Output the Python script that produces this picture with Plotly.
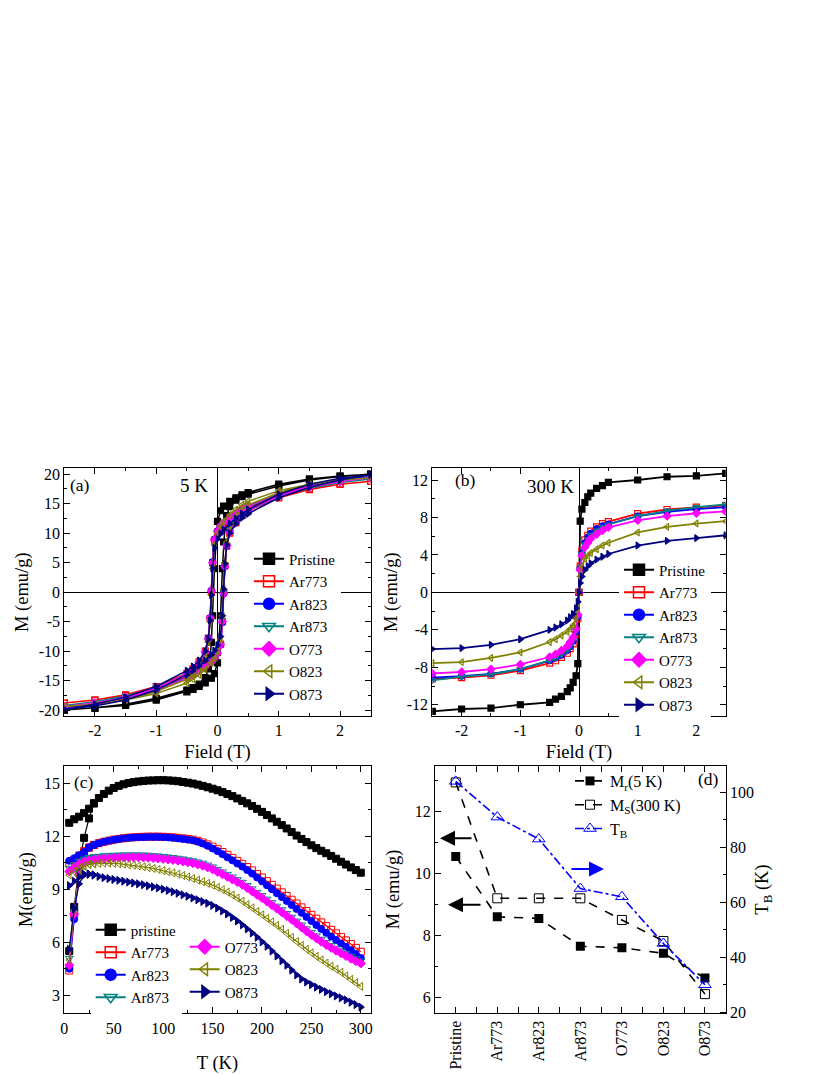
import plotly.graph_objects as go

SERIF = "Liberation Serif"

# ---------------- data ----------------
samples = ["Pristine", "Ar773", "Ar823", "Ar873", "O773", "O823", "O873"]
names_c = ["pristine", "Ar773", "Ar823", "Ar873", "O773", "O823", "O873"]

# (a) 5 K hysteresis loops: descending branch then ascending branch
H_desc_5K = [2.5, 2, 1.5, 1, 0.5, 0.4, 0.3, 0.2, 0.1, 0.05, 0, -0.05, -0.08, -0.1, -0.12, -0.15, -0.2, -0.3, -0.4, -0.5, -1, -1.5, -2, -2.5]
H_asc_5K = [-2.5, -2, -1.5, -1, -0.5, -0.4, -0.3, -0.2, -0.1, -0.05, 0, 0.05, 0.08, 0.1, 0.12, 0.15, 0.2, 0.3, 0.4, 0.5, 1, 1.5, 2, 2.5]

desc_Pristine = [20.0, 19.7, 19.2, 18.3, 16.9, 16.5, 16.0, 15.4, 14.6, 13.8, 12.0, 4.0, -4.0, -8.5, -11.0, -13.0, -14.5, -15.6, -16.2, -16.6, -18.0, -19.0, -19.6, -20.0]
asc_Pristine = [-20.0, -19.7, -19.2, -18.3, -16.9, -16.5, -16.0, -15.4, -14.6, -13.8, -12.0, -4.0, 4.0, 8.5, 11.0, 13.0, 14.5, 15.6, 16.2, 16.6, 18.0, 19.0, 19.6, 20.0]
desc_Ar773 = [18.8, 18.3, 17.5, 16.5, 14.3, 13.8, 13.1, 12.4, 11.6, 11.0, 10.2, 8.8, 5.0, 0.0, -4.5, -7.8, -10.0, -11.8, -13.0, -13.8, -16.0, -17.4, -18.3, -18.8]
asc_Ar773 = [-18.8, -18.3, -17.5, -16.5, -14.3, -13.8, -13.1, -12.4, -11.6, -11.0, -10.2, -8.8, -5.0, 0.0, 4.5, 7.8, 10.0, 11.8, 13.0, 13.8, 16.0, 17.4, 18.3, 18.8]
desc_Ar823 = [19.6, 19.0, 18.1, 16.8, 14.6, 14.0, 13.3, 12.6, 11.8, 11.2, 10.4, 9.0, 5.2, 0.3, -4.3, -7.8, -10.2, -12.0, -13.2, -14.0, -16.4, -17.9, -18.9, -19.6]
asc_Ar823 = [-19.6, -19.0, -18.1, -16.8, -14.6, -14.0, -13.3, -12.6, -11.8, -11.2, -10.4, -9.0, -5.2, -0.3, 4.3, 7.8, 10.2, 12.0, 13.2, 14.0, 16.4, 17.9, 18.9, 19.6]
desc_Ar873 = [19.2, 18.6, 17.7, 16.6, 14.5, 13.9, 13.2, 12.5, 11.7, 11.1, 10.2, 8.8, 4.8, 0.0, -4.6, -8.0, -10.2, -12.0, -13.1, -13.9, -16.2, -17.6, -18.6, -19.2]
asc_Ar873 = [-19.2, -18.6, -17.7, -16.6, -14.5, -13.9, -13.2, -12.5, -11.7, -11.1, -10.2, -8.8, -4.8, 0.0, 4.6, 8.0, 10.2, 12.0, 13.1, 13.9, 16.2, 17.6, 18.6, 19.2]
desc_O773 = [19.4, 18.8, 17.9, 16.7, 14.6, 14.0, 13.3, 12.6, 11.8, 11.2, 10.3, 8.9, 5.0, 0.2, -4.4, -7.9, -10.1, -11.9, -13.1, -13.9, -16.3, -17.8, -18.8, -19.4]
asc_O773 = [-19.4, -18.8, -17.9, -16.7, -14.6, -14.0, -13.3, -12.6, -11.8, -11.2, -10.3, -8.9, -5.0, -0.2, 4.4, 7.9, 10.1, 11.9, 13.1, 13.9, 16.3, 17.8, 18.8, 19.4]
desc_O823 = [19.4, 19.0, 18.3, 17.2, 15.4, 14.8, 14.0, 13.1, 12.0, 11.2, 10.0, 8.0, 4.0, -0.5, -5.0, -8.5, -10.8, -12.8, -14.0, -14.8, -16.8, -18.2, -19.0, -19.4]
asc_O823 = [-19.4, -19.0, -18.3, -17.2, -15.4, -14.8, -14.0, -13.1, -12.0, -11.2, -10.0, -8.0, -4.0, 0.5, 5.0, 8.5, 10.8, 12.8, 14.0, 14.8, 16.8, 18.2, 19.0, 19.4]
desc_O873 = [19.9, 19.3, 18.3, 16.6, 14.0, 13.3, 12.5, 11.6, 10.6, 9.9, 9.0, 7.5, 4.0, -0.5, -4.8, -8.0, -10.0, -11.6, -12.6, -13.3, -16.0, -17.8, -19.0, -19.9]
asc_O873 = [-19.9, -19.3, -18.3, -16.6, -14.0, -13.3, -12.5, -11.6, -10.6, -9.9, -9.0, -7.5, -4.0, 0.5, 4.8, 8.0, 10.0, 11.6, 12.6, 13.3, 16.0, 17.8, 19.0, 19.9]

# (b) 300 K field sweep
H_300K = [-2.5, -2, -1.5, -1, -0.5, -0.4, -0.3, -0.2, -0.15, -0.1, -0.05, -0.02, 0, 0.02, 0.05, 0.1, 0.15, 0.2, 0.3, 0.4, 0.5, 1, 1.5, 2, 2.5]
M300_Pristine = [-12.7, -12.45, -12.35, -12.0, -11.75, -11.4, -11.1, -10.6, -10.2, -9.6, -8.9, -7.6, 0.0, 7.6, 8.9, 9.6, 10.2, 10.6, 11.1, 11.4, 11.75, 12.0, 12.35, 12.45, 12.7]
M300_Ar773 = [-9.25, -9.1, -8.85, -8.35, -7.55, -7.3, -6.95, -6.5, -6.0, -5.5, -4.5, -2.8, 0.0, 2.8, 4.5, 5.6, 6.1, 6.55, 7.0, 7.35, 7.55, 8.4, 8.85, 9.1, 9.3]
M300_Ar823 = [-9.1, -8.95, -8.7, -8.2, -7.3, -7.0, -6.7, -6.2, -5.8, -5.2, -4.2, -2.6, 0.0, 2.6, 4.2, 5.3, 5.9, 6.3, 6.8, 7.1, 7.3, 8.15, 8.6, 8.9, 9.1]
M300_Ar873 = [-9.4, -9.0, -8.75, -8.2, -7.25, -7.0, -6.6, -6.15, -5.7, -5.1, -4.1, -2.5, 0.0, 2.5, 4.1, 5.1, 5.7, 6.15, 6.6, 7.0, 7.25, 8.15, 8.7, 9.1, 9.4]
M300_O773 = [-8.65, -8.5, -8.2, -7.7, -6.9, -6.6, -6.2, -5.75, -5.3, -4.8, -3.9, -2.4, 0.0, 2.4, 3.9, 4.8, 5.3, 5.75, 6.2, 6.6, 6.95, 7.7, 8.15, 8.45, 8.65]
M300_O823 = [-7.55, -7.45, -7.0, -6.4, -5.3, -5.0, -4.6, -4.2, -3.9, -3.5, -2.8, -1.7, 0.0, 1.7, 2.8, 3.6, 3.9, 4.2, 4.6, 5.0, 5.3, 6.4, 7.0, 7.35, 7.6]
M300_O873 = [-6.05, -5.95, -5.6, -5.0, -4.0, -3.75, -3.4, -3.0, -2.65, -2.3, -1.7, -1.0, 0.0, 1.0, 1.7, 2.4, 2.8, 3.1, 3.5, 3.8, 4.1, 5.0, 5.5, 5.8, 6.1]

# (c) M vs T: ZFC (low T) and FC
T_zfc = [5, 10, 15, 20, 25, 30]
T_fc = [5, 10, 15, 20, 25, 30, 35, 40, 45, 50, 55, 60, 65, 70, 75, 80, 85, 90, 95, 100,
        105, 110, 115, 120, 125, 130, 135, 140, 145, 150, 155, 160, 165, 170, 175, 180, 185, 190, 195, 200,
        205, 210, 215, 220, 225, 230, 235, 240, 245, 250, 255, 260, 265, 270, 275, 280, 285, 290, 295, 300]

zfc_Pristine = [5.5, 8.0, 10.4, 11.9, 13.0, 13.85]
zfc_Ar773 = [4.4, 7.6, 10.3, 11.05, 11.35, 11.5]
zfc_Ar823 = [4.5, 7.3, 10.0, 11.0, 11.35, 11.5]
zfc_Ar873 = [5.1, 7.7, 9.9, 10.6, 10.8, 10.84]
zfc_O773 = [4.7, 7.6, 9.8, 10.5, 10.62, 10.67]
zfc_O823 = [5.0, 7.8, 9.7, 10.3, 10.4, 10.44]
zfc_O873 = [5.6, 7.9, 9.3, 9.8, 9.85, 9.8]

fc_Pristine = [12.75, 12.95, 13.1, 13.3, 13.55, 13.85, 14.15, 14.38, 14.57, 14.72,
               14.84, 14.93, 15.0, 15.05, 15.09, 15.12, 15.14, 15.15, 15.16, 15.16,
               15.15, 15.13, 15.1, 15.06, 15.02, 14.97, 14.91, 14.84, 14.76, 14.68,
               14.59, 14.49, 14.38, 14.26, 14.13, 13.99, 13.85, 13.7, 13.54, 13.37,
               13.19, 13.0, 12.81, 12.62, 12.43, 12.23, 12.03, 11.84, 11.66, 11.48,
               11.32, 11.17, 11.03, 10.88, 10.72, 10.55, 10.39, 10.23, 10.08, 9.93]
fc_Ar773 = [10.45, 10.65, 10.9, 11.15, 11.35, 11.5, 11.6, 11.68, 11.74, 11.8,
            11.84, 11.88, 11.91, 11.93, 11.95, 11.96, 11.97, 11.97, 11.97, 11.96,
            11.95, 11.93, 11.9, 11.87, 11.84, 11.8, 11.73, 11.64, 11.53, 11.4,
            11.26, 11.1, 10.94, 10.77, 10.6, 10.43, 10.25, 10.06, 9.86, 9.66,
            9.45, 9.24, 9.03, 8.82, 8.61, 8.4, 8.19, 7.97, 7.76, 7.55,
            7.33, 7.12, 6.91, 6.7, 6.5, 6.3, 6.1, 5.9, 5.68, 5.46]
fc_Ar823 = [10.6, 10.75, 10.92, 11.1, 11.35, 11.5, 11.6, 11.68, 11.74, 11.79,
            11.83, 11.87, 11.9, 11.92, 11.93, 11.94, 11.95, 11.95, 11.95, 11.94,
            11.92, 11.9, 11.87, 11.84, 11.8, 11.76, 11.68, 11.58, 11.45, 11.3,
            11.15, 10.98, 10.8, 10.63, 10.45, 10.28, 10.08, 9.88, 9.66, 9.44,
            9.22, 9.0, 8.77, 8.55, 8.33, 8.1, 7.88, 7.66, 7.43, 7.2,
            6.97, 6.75, 6.53, 6.32, 6.12, 5.93, 5.74, 5.55, 5.33, 5.1]
fc_Ar873 = [10.2, 10.4, 10.6, 10.72, 10.8, 10.84, 10.87, 10.9, 10.92, 10.93,
            10.94, 10.95, 10.95, 10.95, 10.95, 10.94, 10.93, 10.91, 10.89, 10.86,
            10.83, 10.8, 10.76, 10.72, 10.67, 10.62, 10.55, 10.48, 10.38, 10.27,
            10.13, 9.99, 9.85, 9.7, 9.55, 9.4, 9.22, 9.03, 8.83, 8.65,
            8.45, 8.25, 8.05, 7.85, 7.64, 7.43, 7.21, 6.99, 6.77, 6.57,
            6.37, 6.18, 6.0, 5.83, 5.67, 5.52, 5.37, 5.22, 5.08, 4.95]
fc_O773 = [10.0, 10.2, 10.42, 10.55, 10.62, 10.67, 10.7, 10.73, 10.75, 10.77,
           10.78, 10.79, 10.8, 10.8, 10.8, 10.79, 10.78, 10.76, 10.74, 10.71,
           10.68, 10.65, 10.61, 10.57, 10.52, 10.47, 10.4, 10.33, 10.23, 10.12,
           9.98, 9.84, 9.7, 9.55, 9.4, 9.25, 9.07, 8.88, 8.68, 8.5,
           8.3, 8.1, 7.9, 7.7, 7.49, 7.28, 7.06, 6.84, 6.62, 6.42,
           6.22, 6.03, 5.85, 5.68, 5.52, 5.38, 5.22, 5.07, 4.93, 4.8]
fc_O823 = [9.8, 10.0, 10.2, 10.33, 10.4, 10.44, 10.46, 10.47, 10.47, 10.46,
           10.44, 10.41, 10.38, 10.35, 10.31, 10.27, 10.22, 10.17, 10.11, 10.05,
           9.98, 9.92, 9.85, 9.77, 9.69, 9.6, 9.51, 9.42, 9.33, 9.23,
           9.1, 8.97, 8.83, 8.67, 8.5, 8.32, 8.13, 7.94, 7.74, 7.55,
           7.35, 7.15, 6.95, 6.73, 6.5, 6.27, 6.04, 5.82, 5.6, 5.4,
           5.2, 5.0, 4.82, 4.64, 4.47, 4.3, 4.1, 3.9, 3.7, 3.5]
fc_O873 = [9.2, 9.45, 9.7, 9.85, 9.85, 9.8, 9.72, 9.65, 9.6, 9.55,
           9.5, 9.45, 9.4, 9.35, 9.3, 9.25, 9.19, 9.13, 9.07, 9.0,
           8.93, 8.85, 8.77, 8.68, 8.6, 8.5, 8.4, 8.3, 8.2, 8.08,
           7.93, 7.77, 7.6, 7.4, 7.2, 6.98, 6.75, 6.52, 6.28, 6.02,
           5.77, 5.5, 5.22, 4.95, 4.7, 4.42, 4.15, 3.92, 3.75, 3.6,
           3.46, 3.33, 3.2, 3.08, 2.96, 2.85, 2.74, 2.6, 2.47, 2.33]

# (d) summary
Mr_5K = [10.55, 8.6, 8.55, 7.65, 7.6, 7.42, 6.62]
Ms_300K = [12.95, 9.2, 9.2, 9.2, 8.5, 7.82, 6.1]
T_B = [104, 91, 83, 65, 62, 45, 30]

# tick labels (hyphen minus as in the original)
field_ticks = [-2, -1, 0, 1, 2]
field_ticktext = ["-2", "-1", "0", "1", "2"]
m5_ticks = [-20, -15, -10, -5, 0, 5, 10, 15, 20]
m5_ticktext = ["-20", "-15", "-10", "-5", "0", "5", "10", "15", "20"]
m300_ticks = [-12, -8, -4, 0, 4, 8, 12]
m300_ticktext = ["-12", "-8", "-4", "0", "4", "8", "12"]

# ---------------- styles ----------------
colors = ["#000000", "#FF0000", "#0000FF", "#008080", "#FF00FF", "#808000", "#000080"]
symbols = ["square", "square-open", "circle", "triangle-down-open", "diamond", "triangle-left-open", "triangle-right"]

desc_all = [desc_Pristine, desc_Ar773, desc_Ar823, desc_Ar873, desc_O773, desc_O823, desc_O873]
asc_all = [asc_Pristine, asc_Ar773, asc_Ar823, asc_Ar873, asc_O773, asc_O823, asc_O873]
m300_all = [M300_Pristine, M300_Ar773, M300_Ar823, M300_Ar873, M300_O773, M300_O823, M300_O873]
zfc_all = [zfc_Pristine, zfc_Ar773, zfc_Ar823, zfc_Ar873, zfc_O773, zfc_O823, zfc_O873]
fc_all = [fc_Pristine, fc_Ar773, fc_Ar823, fc_Ar873, fc_O773, fc_O823, fc_O873]

# page has an 8 px body margin: convert screenshot pixels to paper coordinates
OFF = 8


def PX(p):
    return (p - OFF) / 830


def PY(p):
    return 1 - (p - OFF) / 1075


fig = go.Figure()


def mk(i, size, lw=1.2):
    return dict(symbol=symbols[i], size=size, color=colors[i], line=dict(color=colors[i], width=lw))


for i, s in enumerate(samples):
    # (a)
    fig.add_trace(go.Scatter(x=H_desc_5K + H_asc_5K, y=desc_all[i] + asc_all[i], mode="lines+markers",
                             line=dict(color=colors[i], width=1.5), marker=mk(i, 6),
                             xaxis="x", yaxis="y", showlegend=False, hoverinfo="skip"))
    fig.add_trace(go.Scatter(x=[None], y=[None], mode="lines+markers", name=s,
                             line=dict(color=colors[i], width=2), marker=mk(i, 11, 1.5),
                             xaxis="x", yaxis="y", legend="legend"))
    # (b)
    fig.add_trace(go.Scatter(x=H_300K, y=m300_all[i], mode="lines+markers",
                             line=dict(color=colors[i], width=1.8), marker=mk(i, 6),
                             xaxis="x2", yaxis="y2", showlegend=False, hoverinfo="skip"))
    fig.add_trace(go.Scatter(x=[None], y=[None], mode="lines+markers", name=s,
                             line=dict(color=colors[i], width=2), marker=mk(i, 11, 1.5),
                             xaxis="x2", yaxis="y2", legend="legend2"))
    # (c)
    fig.add_trace(go.Scatter(x=T_zfc, y=zfc_all[i], mode="lines+markers",
                             line=dict(color=colors[i], width=1.2), marker=mk(i, 7, 1),
                             xaxis="x3", yaxis="y3", showlegend=False, hoverinfo="skip"))
    fig.add_trace(go.Scatter(x=T_fc, y=fc_all[i], mode="lines+markers",
                             line=dict(color=colors[i], width=1.2), marker=mk(i, 7, 1),
                             xaxis="x3", yaxis="y3", showlegend=False, hoverinfo="skip"))
    fig.add_trace(go.Scatter(x=[None], y=[None], mode="lines+markers", name=names_c[i],
                             line=dict(color=colors[i], width=2), marker=mk(i, 11, 1.5),
                             xaxis="x3", yaxis="y3", legend="legend3" if i < 4 else "legend4"))

# (d)
idx = list(range(len(samples)))
fig.add_trace(go.Scatter(x=idx, y=Mr_5K, mode="lines+markers", name="M<sub>r</sub>(5 K)",
                         line=dict(color="black", width=1.6, dash="dash"),
                         marker=dict(symbol="square", size=9, color="black"),
                         xaxis="x4", yaxis="y4", legend="legend5"))
fig.add_trace(go.Scatter(x=idx, y=Ms_300K, mode="lines+markers", name="M<sub>S</sub>(300 K)",
                         line=dict(color="black", width=1.6, dash="dash"),
                         marker=dict(symbol="square-open", size=9, color="black", line=dict(width=1)),
                         xaxis="x4", yaxis="y4", legend="legend5"))
fig.add_trace(go.Scatter(x=idx, y=T_B, mode="lines+markers", name="T<sub>B</sub>",
                         line=dict(color="#0000FF", width=1.6, dash="dashdot"),
                         marker=dict(symbol="triangle-up-open", size=11, color="#0000FF", line=dict(width=1)),
                         xaxis="x4", yaxis="y5", legend="legend5"))

# ---------------- layout ----------------
TICKF = dict(family=SERIF, size=16, color="black")
TITLEF = dict(family=SERIF, size=18.5, color="black")


def ax(**kw):
    d = dict(showline=True, linecolor="black", linewidth=1, mirror="allticks", ticks="inside",
             ticklen=6, tickwidth=1, tickcolor="black", showgrid=False, zeroline=False,
             tickfont=TICKF, automargin=False,
             minor=dict(ticks="inside", ticklen=3, tickcolor="black", showgrid=False))
    minor = kw.pop("minor", None)
    d.update(kw)
    if minor:
        d["minor"].update(minor)
    return d


xa_dom = [PX(64.3), PX(370.7)]
xb_dom = [PX(432.3), PX(725.7)]
xd_dom = [PX(435), PX(725.7)]
ytop_dom = [PY(716), PY(468.3)]
ybot_dom = [PY(1013.3), PY(765.7)]

fig.update_layout(
    width=830, height=1075, autosize=False,
    margin=dict(l=0, r=0, t=0, b=0),
    paper_bgcolor="white", plot_bgcolor="white",
    font=dict(family=SERIF, color="black"),
    xaxis=ax(domain=xa_dom, range=[-2.5, 2.5], tickmode="array", tickvals=field_ticks, ticktext=field_ticktext,
             minor=dict(dtick=0.5, tick0=0),
             zeroline=True, zerolinecolor="black", zerolinewidth=1, anchor="y",
             title=dict(text="Field (T)", font=TITLEF, standoff=6)),
    yaxis=ax(domain=ytop_dom, range=[-21, 21], tickmode="array", tickvals=m5_ticks, ticktext=m5_ticktext,
             minor=dict(dtick=2.5, tick0=0),
             zeroline=True, zerolinecolor="black", zerolinewidth=1, anchor="x",
             title=dict(text="M (emu/g)", font=TITLEF, standoff=5)),
    xaxis2=ax(domain=xb_dom, range=[-2.5, 2.5], tickmode="array", tickvals=field_ticks, ticktext=field_ticktext,
              minor=dict(dtick=0.5, tick0=0),
              zeroline=True, zerolinecolor="black", zerolinewidth=1, anchor="y2",
              title=dict(text="Field (T)", font=TITLEF, standoff=6)),
    yaxis2=ax(domain=ytop_dom, range=[-13.2, 13.25], tickmode="array", tickvals=m300_ticks, ticktext=m300_ticktext,
              minor=dict(dtick=2, tick0=0),
              zeroline=True, zerolinecolor="black", zerolinewidth=1, anchor="x2",
              title=dict(text="M (emu/g)", font=TITLEF, standoff=4)),
    xaxis3=ax(domain=xa_dom, range=[0, 310], tick0=0, dtick=50, minor=dict(dtick=25, tick0=0), anchor="y3",
              title=dict(text="T (K)", font=TITLEF, standoff=20)),
    yaxis3=ax(domain=ybot_dom, range=[1.98, 15.98], tick0=0, dtick=3, minor=dict(dtick=1.5, tick0=0), anchor="x3",
              title=dict(text="M(emu/g)", font=TITLEF, standoff=6)),
    xaxis4=ax(domain=xd_dom, range=[-0.5, 6.5], tickmode="array", tickvals=idx, ticktext=samples,
              tickangle=-90, minor=dict(dtick=0.5, tick0=0), anchor="y4"),
    yaxis4=ax(domain=ybot_dom, range=[5.48, 13.49], tick0=0, dtick=2, minor=dict(dtick=1, tick0=0),
              mirror=False, anchor="x4",
              title=dict(text="M (emu/g)", font=TITLEF, standoff=10)),
    yaxis5=ax(domain=ybot_dom, range=[19.6, 109.7], tick0=0, dtick=20, minor=dict(dtick=10, tick0=0),
              mirror=False, overlaying="y4", side="right", anchor="x4",
              title=dict(text="T<sub>B</sub> (K)", font=TITLEF, standoff=2)),
)

LEGF = dict(family=SERIF, size=15, color="black")
leg_common = dict(xanchor="left", yanchor="top", bgcolor="white", borderwidth=0, font=LEGF,
                  tracegroupgap=0, itemwidth=30)
fig.update_layout(
    legend=dict(x=PX(249), y=PY(542.5), **leg_common),
    legend2=dict(x=PX(619), y=PY(553.5), **leg_common),
    legend3=dict(x=PX(90.7), y=PY(913.5), **leg_common),
    legend4=dict(x=PX(184.7), y=PY(930.5), **dict(leg_common, bgcolor="rgba(0,0,0,0)")),
    legend5=dict(x=PX(570), y=PY(764), **dict(leg_common, bgcolor="rgba(0,0,0,0)",
                                               font=dict(family=SERIF, size=16, color="black"))),
)

# panel labels and conditions
labels = [("(a)", 68.3, 485, 17.5, "left"), ("5 K", 194, 485, 19, "center"),
          ("(b)", 453.3, 480, 17.5, "left"), ("300 K", 550, 486.7, 19, "center"),
          ("(c)", 72.3, 781.7, 17.5, "left"), ("(d)", 696, 779, 17.5, "left")]
for t, px, py, fs, xa in labels:
    fig.add_annotation(text=t, x=PX(px), y=PY(py), xref="paper", yref="paper",
                       xanchor=xa, yanchor="middle", showarrow=False,
                       font=dict(family=SERIF, size=fs, color="black"))

# arrows in (d)
arrows = [(440, 838.3, 33, "black"), (448, 904.7, 34, "black"), (604, 869, -34, "#0000FF")]
for hx, hy, dx, c in arrows:
    fig.add_annotation(text="", x=PX(hx), y=PY(hy), xref="paper", yref="paper",
                       ax=dx, ay=0, showarrow=True, arrowhead=2, arrowsize=1.5, arrowwidth=2,
                       arrowcolor=c, standoff=0, startstandoff=0)

fig.write_html("out.html")
